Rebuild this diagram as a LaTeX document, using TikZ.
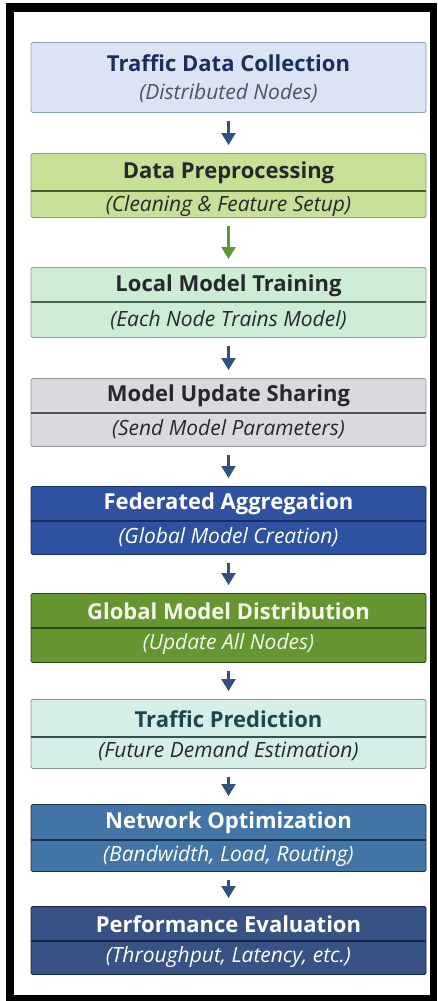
\documentclass[tikz,border=0pt]{standalone}
\usepackage{fontspec}
\setmainfont{Open Sans}
\usetikzlibrary{arrows.meta}

% palette
\definecolor{arrowblue}{RGB}{52,80,128}
\definecolor{arrowgreen}{RGB}{96,150,52}
\definecolor{navytext}{RGB}{28,46,96}
\definecolor{darktext}{RGB}{38,40,44}
\definecolor{tealtext}{RGB}{30,70,80}
\definecolor{fillA}{RGB}{218,228,245}\definecolor{lineA}{RGB}{140,162,196}
\definecolor{fillB}{RGB}{198,224,150}\definecolor{lineB}{RGB}{66,96,44}
\definecolor{fillC}{RGB}{206,235,212}\definecolor{lineC}{RGB}{70,100,80}
\definecolor{fillD}{RGB}{218,218,222}\definecolor{lineD}{RGB}{80,80,90}
\definecolor{fillE}{RGB}{46,82,160}\definecolor{lineE}{RGB}{24,44,100}
\definecolor{fillF}{RGB}{102,150,50}\definecolor{lineF}{RGB}{40,70,22}
\definecolor{fillG}{RGB}{214,238,232}\definecolor{lineG}{RGB}{52,80,82}
\definecolor{fillH}{RGB}{66,116,166}\definecolor{lineH}{RGB}{24,48,80}
\definecolor{fillI}{RGB}{56,82,134}\definecolor{lineI}{RGB}{22,38,72}
\definecolor{lighttext}{RGB}{246,248,236}

\tikzset{
  stagebox/.style={rectangle, rounded corners=1.5pt, line width=0.9pt,
    minimum width=395pt, inner sep=0pt, anchor=north},
  stagetitle/.style={font=\fontsize{22}{24}\selectfont\bfseries, inner sep=0pt},
  stagesub/.style={font=\fontsize{21}{23}\selectfont\itshape, inner sep=0pt},
  divider/.style={line width=1.1pt},
  flow/.style={-{Triangle[width=14pt,length=12pt]}, line width=2.4pt,
    shorten <=8pt, shorten >=8pt},
}

\begin{document}
\begin{tikzpicture}[x=1pt,y=-1pt]
  % page and frame
  \useasboundingbox (0,0) rectangle (437,1001);
  \fill[white] (0,0) rectangle (437,1001);
  \fill[black] (6,3) rectangle (437,1001);
  \fill[white] (14,12) rectangle (430,995);

  % 1 Traffic Data Collection
  \node[stagebox, fill=fillA, draw=lineA, minimum height=70pt] (b1) at (228.5,42) {};
  \node[stagetitle, text=navytext] (t1) at (228.5,63) {Traffic Data Collection};
  \node[stagesub, text=darktext!80] (s1) at (228.5,93) {(Distributed Nodes)};

  % 2 Data Preprocessing
  \node[stagebox, fill=fillB, draw=lineB!60, minimum height=64pt] (b2) at (228.5,153) {};
  \draw[divider, lineB] (b2.west |- 0,191) -- (b2.east |- 0,191);
  \node[stagetitle, text=darktext] (t2) at (228.5,173) {Data Preprocessing};
  \node[stagesub, text=darktext] (s2) at (228.5,206) {(Cleaning \& Feature Setup)};

  % 3 Local Model Training
  \node[stagebox, fill=fillC, draw=lineC!60, minimum height=70pt] (b3) at (228.5,267) {};
  \draw[divider, lineC] (b3.west |- 0,302) -- (b3.east |- 0,302);
  \node[stagetitle, text=darktext] (t3) at (228.5,286) {Local Model Training};
  \node[stagesub, text=darktext] (s3) at (228.5,320) {(Each Node Trains Model)};

  % 4 Model Update Sharing
  \node[stagebox, fill=fillD, draw=lineD!60, minimum height=68pt] (b4) at (228.5,378) {};
  \draw[divider, lineD] (b4.west |- 0,413) -- (b4.east |- 0,413);
  \node[stagetitle, text=darktext] (t4) at (228.5,396) {Model Update Sharing};
  \node[stagesub, text=darktext] (s4) at (228.5,429) {(Send Model Parameters)};

  % 5 Federated Aggregation
  \node[stagebox, fill=fillE, draw=lineE, minimum height=68pt] (b5) at (228.5,486) {};
  \draw[divider, lineE] (b5.west |- 0,521) -- (b5.east |- 0,521);
  \node[stagetitle, text=white] (t5) at (228.5,504) {Federated Aggregation};
  \node[stagesub, text=white] (s5) at (228.5,537) {(Global Model Creation)};

  % 6 Global Model Distribution
  \node[stagebox, fill=fillF, draw=lineF, minimum height=69pt] (b6) at (228.5,593) {};
  \draw[divider, lineF] (b6.west |- 0,628) -- (b6.east |- 0,628);
  \node[stagetitle, text=lighttext] (t6) at (228.5,611) {Global Model Distribution};
  \node[stagesub, text=lighttext] (s6) at (228.5,644) {(Update All Nodes)};

  % 7 Traffic Prediction
  \node[stagebox, fill=fillG, draw=lineG!60, minimum height=69pt] (b7) at (228.5,699) {};
  \draw[divider, lineG] (b7.west |- 0,737) -- (b7.east |- 0,737);
  \node[stagetitle, text=tealtext] (t7) at (228.5,719) {Traffic Prediction};
  \node[stagesub, text=darktext] (s7) at (228.5,751) {(Future Demand Estimation)};

  % 8 Network Optimization
  \node[stagebox, fill=fillH, draw=lineH, minimum height=67pt] (b8) at (228.5,804) {};
  \draw[divider, lineH] (b8.west |- 0,840) -- (b8.east |- 0,840);
  \node[stagetitle, text=white] (t8) at (228.5,823) {Network Optimization};
  \node[stagesub, text=white] (s8) at (228.5,856) {(Bandwidth, Load, Routing)};

  % 9 Performance Evaluation
  \node[stagebox, fill=fillI, draw=lineI, minimum height=68pt] (b9) at (228.5,906) {};
  \draw[divider, lineI] (b9.west |- 0,941) -- (b9.east |- 0,941);
  \node[stagetitle, text=white] (t9) at (228.5,924) {Performance Evaluation};
  \node[stagesub, text=white] (s9) at (228.5,957) {(Throughput, Latency, etc.)};

  % connectors
  \draw[flow, arrowblue]  (b1) -- (b2);
  \draw[flow, arrowgreen] (b2) -- (b3);
  \draw[flow, arrowblue]  (b3) -- (b4);
  \draw[flow, arrowblue]  (b4) -- (b5);
  \draw[flow, arrowblue]  (b5) -- (b6);
  \draw[flow, arrowblue]  (b6) -- (b7);
  \draw[flow, arrowblue]  (b7) -- (b8);
  \draw[flow, arrowblue]  (b8) -- (b9);
\end{tikzpicture}
\end{document}
